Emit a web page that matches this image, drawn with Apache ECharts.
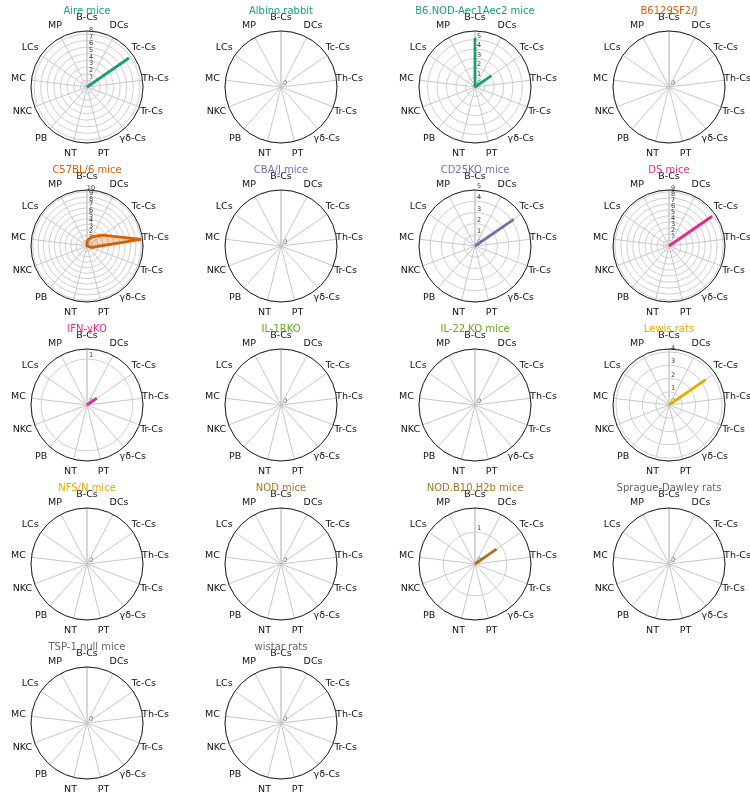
<!DOCTYPE html>
<html><head><meta charset="utf-8">
<script src="https://cdn.jsdelivr.net/npm/echarts@6/dist/echarts.min.js"></script>
<style>html,body{margin:0;padding:0;background:#fff}#c{width:750px;height:794px}</style>
</head><body><div id="c"></div>
<script>
const categories = ['B-Cs','DCs','Tc-Cs','Th-Cs','Tr-Cs','γδ-Cs','PT','NT','PB','NKC','MC','LCs','MP'];
const chartNames = ['Aire mice','Albino rabbit','B6.NOD-Aec1Aec2 mice','B6129SF2/J','C57BL/6 mice','CBA/J mice','CD25KO mice','DS mice','IFN-γKO','IL-1RKO','IL-22 KO mice','Lewis rats','NFS/N mice','NOD mice','NOD.B10.H2b mice','Sprague-Dawley rats','TSP-1 null mice','wistar rats'];
// values in category order
const aireMice        = [0, 0, 7.7, 0, 0, 0, 0, 0, 0, 0, 0, 0, 0];
const albinoRabbit    = [0, 0, 0, 0, 0, 0, 0, 0, 0, 0, 0, 0, 0];
const b6NodMice       = [5.2, 0, 2.1, 0, 0, 0, 0, 0, 0, 0, 0, 0, 0];
const b6129sf2j       = [0, 0, 0, 0, 0, 0, 0, 0, 0, 0, 0, 0, 0];
const c57bl6Mice      = [1.0, 1.9, 3.5, 10.0, 0.8, 0, 0, 0, 0, 0, 0, 0, 0];
const cbaJMice        = [0, 0, 0, 0, 0, 0, 0, 0, 0, 0, 0, 0, 0];
const cd25koMice      = [0, 0, 4.2, 0, 0, 0, 0, 0, 0, 0, 0, 0, 0];
const dsMice          = [0, 0, 8.7, 0, 0, 0, 0, 0, 0, 0, 0, 0, 0];
const ifnGammaKO      = [0, 0, 0.26, 0, 0, 0, 0, 0, 0, 0, 0, 0, 0];
const il1rKO          = [0, 0, 0, 0, 0, 0, 0, 0, 0, 0, 0, 0, 0];
const il22KOMice      = [0, 0, 0, 0, 0, 0, 0, 0, 0, 0, 0, 0, 0];
const lewisRats       = [0, 0, 3.36, 0, 0, 0, 0, 0, 0, 0, 0, 0, 0];
const nfsNMice        = [0, 0, 0, 0, 0, 0, 0, 0, 0, 0, 0, 0, 0];
const nodMice         = [0, 0, 0, 0, 0, 0, 0, 0, 0, 0, 0, 0, 0];
const nodB10Mice      = [0, 0, 0.82, 0, 0, 0, 0, 0, 0, 0, 0, 0, 0];
const spragueDawley   = [0, 0, 0, 0, 0, 0, 0, 0, 0, 0, 0, 0, 0];
const tsp1NullMice    = [0, 0, 0, 0, 0, 0, 0, 0, 0, 0, 0, 0, 0];
const wistarRats      = [0, 0, 0, 0, 0, 0, 0, 0, 0, 0, 0, 0, 0];
const seriesValues = [aireMice, albinoRabbit, b6NodMice, b6129sf2j, c57bl6Mice, cbaJMice, cd25koMice, dsMice, ifnGammaKO, il1rKO, il22KOMice, lewisRats, nfsNMice, nodMice, nodB10Mice, spragueDawley, tsp1NullMice, wistarRats];
// radial axis: outer limit and last labelled tick
const radiusMax     = [8.45, 1, 5.9, 1, 10.3, 1, 5.0, 9.3, 1.22, 1, 1, 4.22, 1, 1, 1.76, 1, 1, 1];
const radiusTickMax = [8, 0, 5, 0, 10, 0, 5, 9, 1, 0, 0, 4, 0, 0, 1, 0, 0, 0];

const palette = ['#1b9e77','#1b9e77','#1b9e77','#d95f02','#d95f02','#7570b3','#7570b3','#e7298a','#e7298a','#66a61e','#66a61e','#e6ab02','#e6ab02','#a6761d','#a6761d','#666666','#666666','#666666'];
const FONT = 'DejaVu Sans';
const N = categories.length;
const STEP = 360 / N;
// radar indicators run counter-clockwise, so list them reversed after the first to read clockwise
const labelOrder = [categories[0]].concat(categories.slice(1).reverse());

const polar = [], angleAxis = [], radiusAxis = [], series = [], title = [], radar = [];
seriesValues.forEach((vals, i) => {
  const col = i % 4, row = Math.floor(i / 4);
  const cx = 87 + col * 194, cy = 87 + row * 159;
  polar.push({ center: [cx, cy], radius: 56 });
  radar.push({
    center: [cx, cy], radius: 56, startAngle: 90, splitNumber: 1, nameGap: 13,
    indicator: labelOrder.map(n => ({ name: n, max: 1 })),
    axisName: { fontFamily: FONT, fontSize: 9.5, color: '#111', align: 'center', verticalAlign: 'middle' },
    axisLine: { show: false }, splitLine: { show: false }, splitArea: { show: false },
    axisTick: { show: false }, axisLabel: { show: false }, silent: true
  });
  angleAxis.push({
    polarIndex: i, type: 'value', min: 0, max: 360, interval: STEP,
    startAngle: 90, clockwise: true, z: 4,
    axisLine: { lineStyle: { color: '#222', width: 1 } },
    axisTick: { show: false },
    splitLine: { lineStyle: { color: '#c8c8c8', width: 1 } },
    axisLabel: { show: false }
  });
  const tmax = radiusTickMax[i];
  radiusAxis.push({
    polarIndex: i, type: 'value', min: 0, max: radiusMax[i], interval: 1,
    axisLine: { show: false }, axisTick: { show: false },
    splitLine: { lineStyle: { color: '#d0d0d0', width: 1 } },
    axisLabel: {
      fontFamily: FONT, fontSize: 6.5, color: '#333', margin: -4,
      align: 'center', verticalAlign: 'bottom',
      formatter: v => (Math.abs(v - Math.round(v)) < 1e-6 && v <= tmax + 1e-6) ? String(Math.round(v)) : ''
    },
    z: 3
  });
  const data = vals.map((v, k) => [v, k * STEP]);
  data.push([vals[0], 360]);
  series.push({
    type: 'line', coordinateSystem: 'polar', polarIndex: i, data,
    symbol: 'none', clip: false, z: 6,
    lineStyle: { color: palette[i], width: 2.8 },
    areaStyle: { color: palette[i], opacity: 0.25 }
  });
  title.push({
    text: chartNames[i], left: cx, top: cy - 81, textAlign: 'center', padding: 0,
    textStyle: { fontFamily: FONT, fontSize: 10, fontWeight: 'normal', color: palette[i] }
  });
});

const chart = echarts.init(document.getElementById('c'), null, { renderer: 'canvas' });
chart.setOption({ animation: false, backgroundColor: '#fff', title, radar, polar, angleAxis, radiusAxis, series });
</script></body></html>
